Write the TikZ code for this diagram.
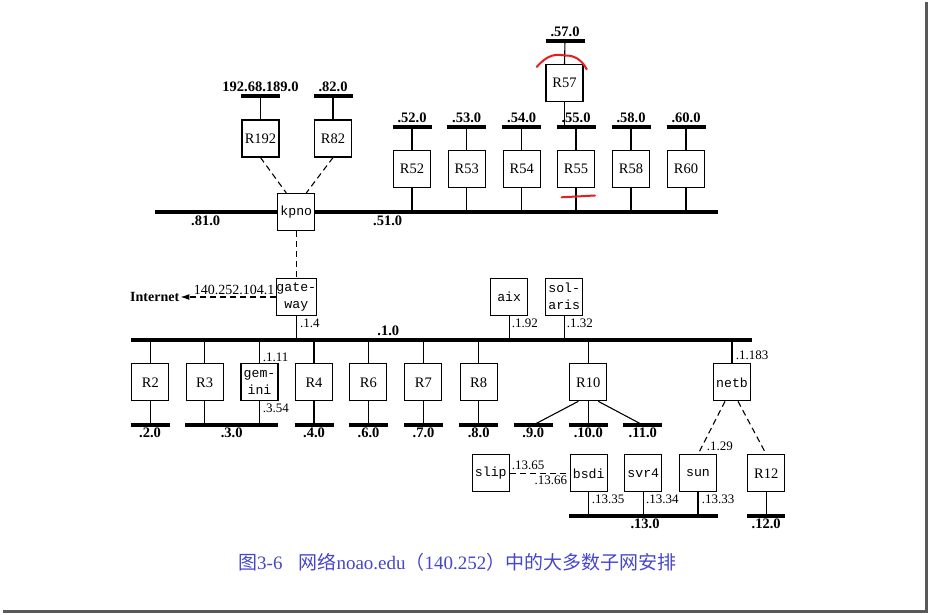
\documentclass[tikz,border=0pt]{standalone}
\usepackage{fontspec}
\setmainfont{Liberation Serif}
\setmonofont{Liberation Mono}
\newfontfamily\cjk{Noto Sans CJK SC}
\usetikzlibrary{arrows.meta}
\definecolor{capblue}{RGB}{70,70,205}
\definecolor{annot}{RGB}{230,30,30}
\begin{document}
\begin{tikzpicture}[x=1pt,y=-1pt,
  box/.style={draw,line width=1.1pt,minimum width=37pt,minimum height=37pt,inner sep=0pt,font=\fontsize{14.5}{16}\selectfont},
  tbox/.style={box,font=\ttfamily\fontsize{13.2}{17}\selectfont,align=center},
  wire/.style={line width=1.1pt},
  bus/.style={line width=3.8pt},
  dashwire/.style={line width=1.1pt,dash pattern=on 6pt off 4pt},
  netlab/.style={inner sep=0pt,font=\bfseries\fontsize{14.5}{16}\selectfont},
  addr/.style={inner sep=0pt,font=\fontsize{13}{14}\selectfont},
]
\useasboundingbox (0,0) rectangle (929,615);
% frame shadow
\draw[line width=3pt,black!65] (926.5,2) -- (926.5,611.5) -- (3,611.5);

% ---------- top networks ----------
\coordinate (n192) at (260.5,96);
\coordinate (n82) at (333,96);
\draw[bus] ([xshift=-19.5pt]n192) -- ([xshift=19.5pt]n192);
\draw[bus] ([xshift=-19.5pt]n82) -- ([xshift=19.5pt]n82);
\node[netlab,anchor=south] (l192) at ([yshift=4pt]n192) {192.68.189.0};
\node[netlab,anchor=south] (l82) at ([yshift=4pt]n82) {.82.0};
\node[box] (R192) at (260.5,138.5) {R192};
\node[box] (R82) at (333,138.5) {R82};
\draw[wire] (R192.north) -- (n192);
\draw[wire] (R82.north) -- (n82);

\coordinate (n57) at (565,40.7);
\draw[bus] ([xshift=-19.5pt]n57) -- ([xshift=19.5pt]n57);
\node[netlab,anchor=south] (l57) at ([yshift=4pt]n57) {.57.0};
\node[box] (R57) at (564.5,83) {R57};
\draw[wire] (R57.north) -- (n57);

\foreach \nm/\xx in {52/412,53/466.7,54/521.7,55/576,58/631,60/686}{
  \coordinate (n\nm) at (\xx,126.7);
  \draw[bus] ([xshift=-19.5pt]n\nm) -- ([xshift=19.5pt]n\nm);
  \node[netlab,anchor=south] (l\nm) at ([yshift=4pt]n\nm) {.\nm.0};
  \node[box] (R\nm) at (\xx,169) {R\nm};
  \draw[wire] (R\nm.north) -- (n\nm);
}
\draw[wire] (R57.south) -- (R57.south |- n55);

% .81.0 / .51.0 bus
\coordinate (b81L) at (155,212);
\coordinate (b81R) at (718,212);
\draw[bus] (b81L) -- (b81R);
\node[netlab] (l81) at (205.7,221) {.81.0};
\node[netlab] (l51) at (387.7,221) {.51.0};
\foreach \nm in {52,53,54,55,58,60}{
  \draw[wire] (R\nm.south) -- (R\nm.south |- b81L);
}
\node[tbox,fill=white] (kpno) at (296.3,212) {kpno};
\draw[dashwire] (R192.south) -- ([xshift=-10pt]kpno.north);
\draw[dashwire] (R82.south) -- ([xshift=10pt]kpno.north);

% annotations (red pen)
\draw[annot,line width=2pt,line cap=round] (536.7,67) .. controls (548,54) and (556,54) .. (565,55.5) .. controls (574,55) and (582,60) .. (586.7,69.3);
\draw[annot,line width=2pt,line cap=round] (561.7,197.3) -- (595,195.5);

% ---------- gateway and .1.0 bus ----------
\node[tbox] (gw) at (296.3,297) {gate-\\way};
\draw[dashwire] (kpno.south) -- (gw.north);
\node[inner sep=1pt,anchor=west,font=\bfseries\fontsize{14}{15}\selectfont] (inet) at (129,297) {Internet};
\draw[dashwire,-{Latex[length=9pt,width=6pt]}] (gw.west) -- (inet.east);
\node[addr,anchor=south east,font=\fontsize{14}{15}\selectfont] (a104) at (274.5,295) {140.252.104.1};

\coordinate (b1L) at (130.7,340);
\coordinate (b1R) at (751.7,340);
\draw[bus] (b1L) -- (b1R);
\node[netlab] (l1) at (388.3,331) {.1.0};
\draw[wire] (gw.south) -- (gw.south |- b1L);
\node[addr,anchor=west] (a14) at (300,323.3) {.1.4};

\node[tbox] (aix) at (509.2,296.7) {aix};
\node[tbox] (sol) at (564.2,296.7) {sol-\\aris};
\draw[wire] (aix.south) -- (aix.south |- b1L);
\draw[wire] (sol.south) -- (sol.south |- b1L);
\node[addr,anchor=west] (a192) at (511.7,323.3) {.1.92};
\node[addr,anchor=west] (a132) at (566.7,323.3) {.1.32};

% lower routers
\node[box] (R2) at (150.3,382.3) {R2};
\node[box] (R3) at (204.7,382.3) {R3};
\node[tbox] (gem) at (259.5,382.3) {gem-\\ini};
\node[box] (R4) at (314,382.3) {R4};
\node[box] (R6) at (368.3,382.3) {R6};
\node[box] (R7) at (423.3,382.3) {R7};
\node[box] (R8) at (478.7,382.3) {R8};
\node[box] (R10) at (588.3,382.3) {R10};
\node[tbox] (netb) at (732,382.3) {netb};
\foreach \r in {R2,R3,gem,R4,R6,R7,R8,R10,netb}{
  \draw[wire] (\r.north) -- (\r.north |- b1L);
}
\node[addr,anchor=west] (a111) at (262.7,357.3) {.1.11};
\node[addr,anchor=west] (a354) at (262.7,408.3) {.3.54};
\node[addr,anchor=west] (a1183) at (735.7,355) {.1.183};

% bottom bars
\coordinate (n2) at (150,425);
\coordinate (n3L) at (185,425);
\coordinate (n3R) at (278.3,425);
\coordinate (n4) at (314,425);
\coordinate (n6) at (368.5,425);
\coordinate (n7) at (423.5,425);
\coordinate (n8) at (478.7,425);
\coordinate (n9) at (533.3,425);
\coordinate (n10) at (588.3,425);
\coordinate (n11) at (642.8,425);
\foreach \c in {n2,n4,n6,n7,n8,n9,n10,n11}{
  \draw[bus] ([xshift=-19.5pt]\c) -- ([xshift=19.5pt]\c);
}
\draw[bus] (n3L) -- (n3R);
\node[netlab,anchor=north] (l2) at ([yshift=-3pt]n2) {.2.0};
\node[netlab,anchor=north] (l3) at (231.7,428) {.3.0};
\node[netlab,anchor=north] (l4) at ([yshift=-3pt]n4) {.4.0};
\node[netlab,anchor=north] (l6) at ([yshift=-3pt]n6) {.6.0};
\node[netlab,anchor=north] (l7) at ([yshift=-3pt]n7) {.7.0};
\node[netlab,anchor=north] (l8) at ([yshift=-3pt]n8) {.8.0};
\node[netlab,anchor=north] (l9) at ([yshift=-3pt]n9) {.9.0};
\node[netlab,anchor=north] (l10) at ([yshift=-3pt]n10) {.10.0};
\node[netlab,anchor=north] (l11) at ([yshift=-3pt]n11) {.11.0};
\foreach \r in {R2,R3,gem,R4,R6,R7,R8}{
  \draw[wire] (\r.south) -- (\r.south |- n2);
}
\draw[wire] ([xshift=-10pt]R10.south) -- (n9);
\draw[wire] (R10.south) -- (n10);
\draw[wire] ([xshift=10pt]R10.south) -- (n11);

% ---------- .13.0 network ----------
\node[tbox] (slip) at (490.8,473.3) {slip};
\node[tbox] (bsdi) at (588.7,473.3) {bsdi};
\node[tbox] (svr4) at (643.3,473.3) {svr4};
\node[tbox] (sun) at (698,473.3) {sun};
\node[box] (R12) at (766.2,473.3) {R12};
\draw[dashwire] (slip.east) -- (bsdi.west);
\node[addr,anchor=west] (a1365) at (511.7,465) {.13.65};
\node[addr,anchor=east] (a1366) at (567.3,480.7) {.13.66};
\draw[dashwire] ([xshift=-7pt]netb.south) -- (sun.north);
\draw[dashwire] ([xshift=6pt]netb.south) -- (R12.north);
\node[addr,anchor=west] (a129) at (706.7,446) {.1.29};

\coordinate (b13L) at (569,516);
\coordinate (b13R) at (717.7,516);
\draw[bus] (b13L) -- (b13R);
\node[netlab,anchor=north] (l13) at (645,519) {.13.0};
\foreach \r in {bsdi,svr4,sun}{
  \draw[wire] (\r.south) -- (\r.south |- b13L);
}
\node[addr,anchor=west] (a1335) at (591.7,499.3) {.13.35};
\node[addr,anchor=west] (a1334) at (646,499.3) {.13.34};
\node[addr,anchor=west] (a1333) at (701.7,499.3) {.13.33};
\coordinate (n12) at (766.2,516);
\draw[bus] ([xshift=-19pt]n12) -- ([xshift=19pt]n12);
\draw[wire] (R12.south) -- (n12);
\node[netlab,anchor=north] (l12) at ([yshift=-3pt]n12) {.12.0};

% caption
\node[anchor=west,inner sep=0pt,text=capblue,font=\fontsize{19}{21}\selectfont] (cap) at (238,562)
  {{\cjk 图}3-6\hspace{16pt}{\cjk 网络}noao.edu{\cjk （}140.252{\cjk ）中的大多数子网安排}};
\end{tikzpicture}
\end{document}
